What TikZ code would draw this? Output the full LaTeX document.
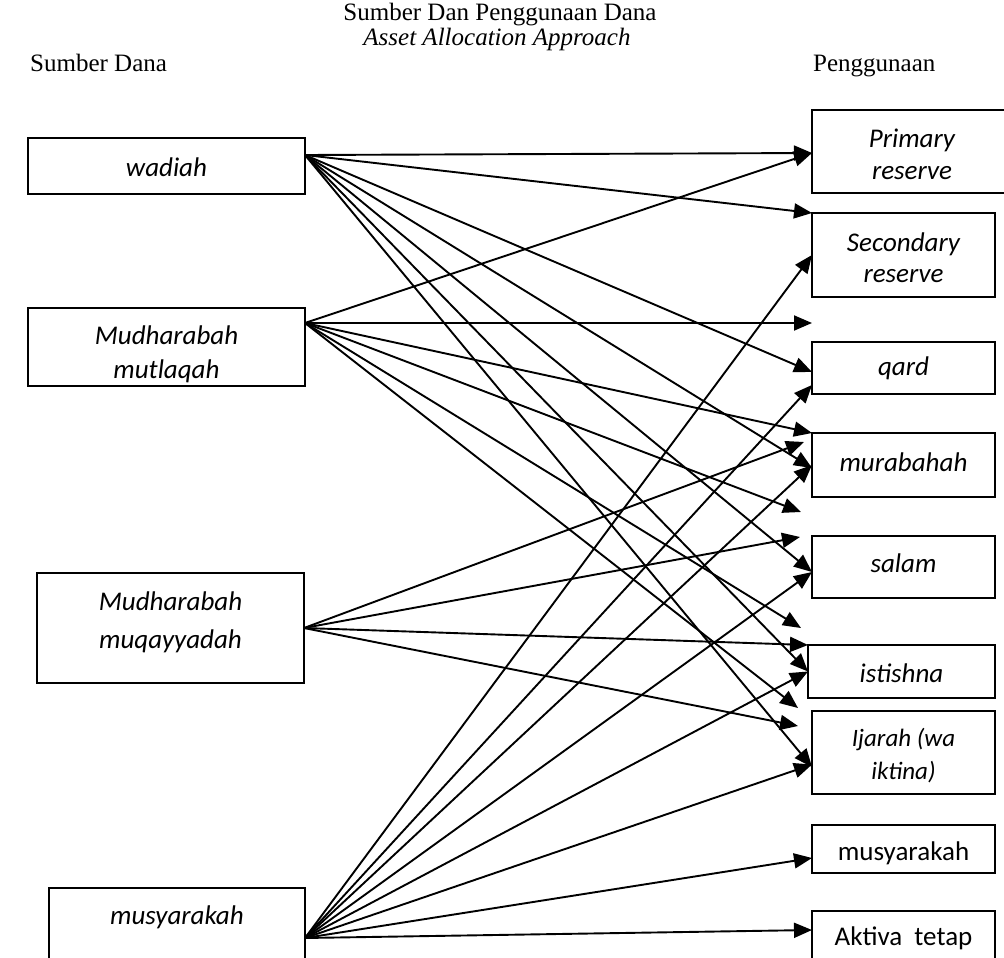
\documentclass[tikz,border=0pt]{standalone}
\usepackage{fontspec}
\setmainfont{Liberation Serif}
\newfontfamily\boxfont{Carlito}
\usetikzlibrary{arrows.meta}
\begin{document}
\begin{tikzpicture}[x=1pt,y=-1pt,
  box/.style={draw, line width=1.8pt, inner sep=0pt, outer sep=0pt},
  lbl/.style={font=\boxfont\fontsize{27}{33}\selectfont\itshape, align=center, inner sep=0pt},
  lblup/.style={font=\boxfont\fontsize{27}{33}\selectfont, align=center, inner sep=0pt},
  head/.style={font=\fontsize{25}{27}\selectfont, inner sep=0pt},
  conn/.style={line width=1.9pt, -{Triangle[length=18pt,width=15pt]}}
]
\useasboundingbox (0,0) rectangle (1004,958);

% headings
\node[head, anchor=base] (title) at (500,21) {Sumber Dan Penggunaan Dana};
\node[head, font=\fontsize{25}{27}\selectfont\itshape, anchor=base] (subtitle) at (497,46) {Asset Allocation Approach};
\node[head, anchor=base west] (srcHead) at (30,71) {Sumber Dana};
\node[head, anchor=base west] (useHead) at (813,71) {Penggunaan};

% source boxes
\node[box, minimum width=277pt, minimum height=56pt] (wad) at (166.5,166) {};
\node[box, minimum width=277pt, minimum height=78pt] (mut) at (166.5,347) {};
\node[box, minimum width=267pt, minimum height=110pt] (muq) at (170.5,628) {};
\node[box, minimum width=256pt, minimum height=100pt] (mus) at (177,938) {};

\node[lbl] (wadT) at (166.5,167) {wadiah};
\node[lbl, font=\boxfont\fontsize{27}{34}\selectfont\itshape] (mutT) at (166.5,354) {Mudharabah\\mutlaqah};
\node[lbl, font=\boxfont\fontsize{27}{38}\selectfont\itshape] (muqT) at (170.5,622) {Mudharabah\\muqayyadah};
\node[lbl] (musT) at (177,917) {musyarakah};

% use boxes
\node[box, minimum width=200pt, minimum height=83pt] (prim) at (912,151.5) {};
\node[box, minimum width=183pt, minimum height=84pt] (sec) at (903.5,255) {};
\node[box, minimum width=183pt, minimum height=52pt] (qard) at (903.5,368) {};
\node[box, minimum width=183pt, minimum height=64pt] (murab) at (903.5,465) {};
\node[box, minimum width=183pt, minimum height=62pt] (salam) at (903.5,567) {};
\node[box, minimum width=187pt, minimum height=53pt] (isti) at (901.5,671.5) {};
\node[box, minimum width=183pt, minimum height=83pt] (ijar) at (903.5,752.5) {};
\node[box, minimum width=183pt, minimum height=48pt] (musy) at (903.5,849) {};
\node[box, minimum width=183pt, minimum height=54pt] (akt) at (903.5,938) {};

\node[lbl, font=\boxfont\fontsize{27}{32}\selectfont\itshape] (primT) at (912,154) {Primary\\reserve};
\node[lbl, font=\boxfont\fontsize{27}{31}\selectfont\itshape] (secT) at (903.5,257.5) {Secondary\\reserve};
\node[lbl] (qardT) at (903.5,368) {qard};
\node[lbl] (murabT) at (903.5,462) {murabahah};
\node[lbl] (salamT) at (903.5,563) {salam};
\node[lbl] (istiT) at (901.5,673) {istishna};
\node[lbl, font=\boxfont\fontsize{25}{33}\selectfont\itshape] (ijarT) at (903.5,756) {Ijarah (wa\\iktina)};
\node[lblup] (musyT) at (903.5,853) {musyarakah};
\node[lblup] (aktT) at (903.5,938) {Aktiva\ \ tetap};

% free arrow ends
\coordinate (f1) at (812,323);
\coordinate (f2) at (801,512);
\coordinate (f3) at (801,628);
\coordinate (f4) at (798,708);
\coordinate (f5) at (804,442);
\coordinate (f6) at (800,537);
\coordinate (f7) at (798,726);

% from wadiah
\draw[conn] ([yshift=11pt]wad.east) -- ([yshift=-1.5pt]prim.west);
\draw[conn] ([yshift=11pt]wad.east) -- (sec.north west);
\draw[conn] ([yshift=11pt]wad.east) -- ([yshift=-4pt]qard.west);
\draw[conn] ([yshift=11pt]wad.east) -- ([yshift=-3pt]murab.west);
\draw[conn] ([yshift=11pt]wad.east) -- ([yshift=-5pt]salam.west);
\draw[conn] ([yshift=11pt]wad.east) -- (isti.west);
\draw[conn] ([yshift=11pt]wad.east) -- ([yshift=-14.5pt]ijar.west);

% from mudharabah mutlaqah
\draw[conn] ([yshift=24pt]mut.east) -- ([yshift=-1.5pt]prim.west);
\draw[conn] ([yshift=24pt]mut.east) -- (f1);
\draw[conn] ([yshift=24pt]mut.east) -- (murab.north west);
\draw[conn] ([yshift=24pt]mut.east) -- (f2);
\draw[conn] ([yshift=24pt]mut.east) -- (f3);
\draw[conn] ([yshift=24pt]mut.east) -- (f4);

% from mudharabah muqayyadah
\draw[conn] (muq.east) -- (f5);
\draw[conn] (muq.east) -- (f6);
\draw[conn] (muq.east) -- (isti.north west);
\draw[conn] (muq.east) -- (f7);

% from musyarakah
\draw[conn] (mus.east) -- (sec.west);
\draw[conn] (mus.east) -- ([yshift=-17pt]qard.west);
\draw[conn] (mus.east) -- (murab.west);
\draw[conn] (mus.east) -- ([yshift=-5pt]salam.west);
\draw[conn] (mus.east) -- (isti.west);
\draw[conn] (mus.east) -- ([yshift=-12pt]ijar.west);
\draw[conn] (mus.east) -- ([yshift=-9pt]musy.west);
\draw[conn] (mus.east) -- ([yshift=8pt]akt.west);
\end{tikzpicture}
\end{document}
